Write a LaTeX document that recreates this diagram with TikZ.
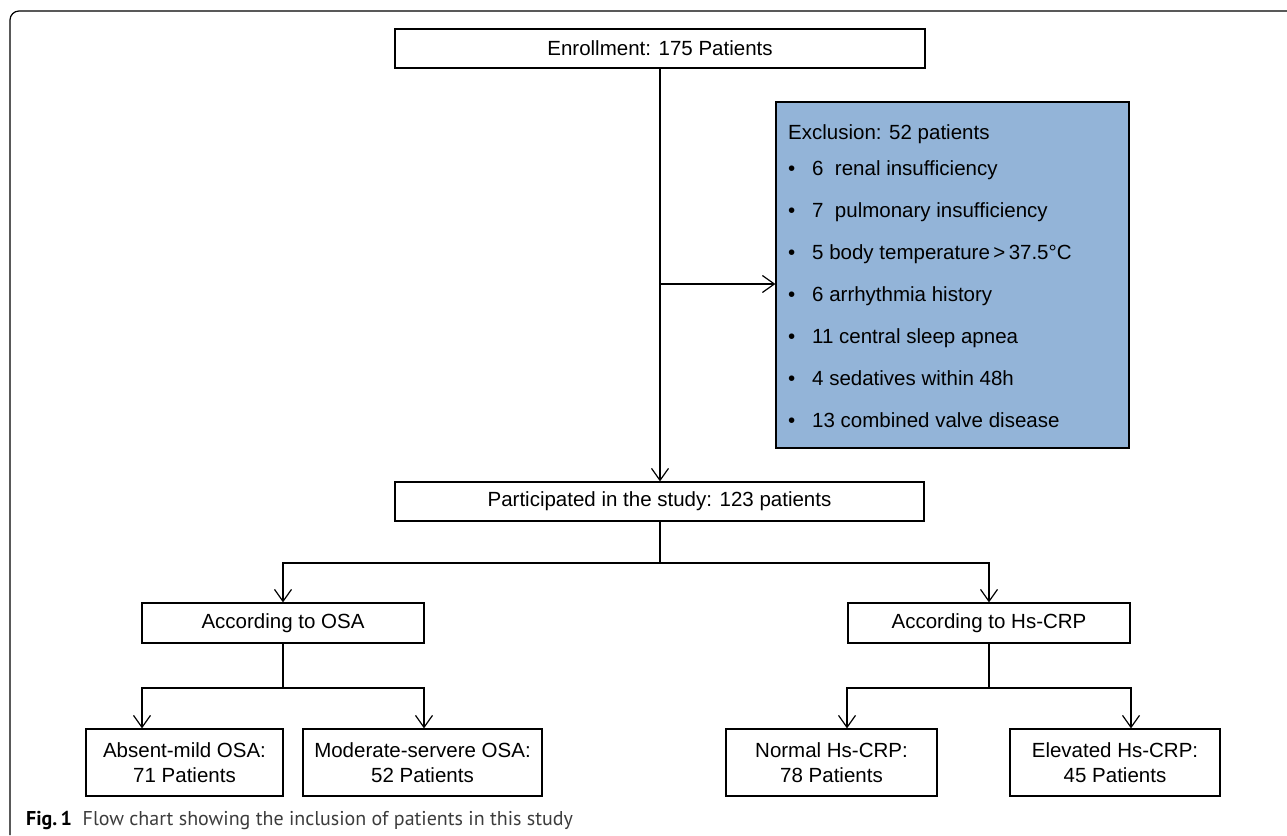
\documentclass[tikz,border=0pt]{standalone}
\usepackage{fontspec}
\setmainfont{Liberation Sans}
\newfontfamily\capfont{PT Sans}
\usetikzlibrary{arrows.meta}
\definecolor{exclblue}{RGB}{147,180,216}
\definecolor{capgray}{RGB}{60,60,60}
\begin{document}
\begin{tikzpicture}[x=1pt,y=-1pt,
  every node/.style={font=\fontsize{20.5}{25}\selectfont},
  boxnode/.style={draw=black, line width=1.2pt, inner sep=0pt, align=center},
  link/.style={line width=1.2pt, draw=black},
  arr/.style={link, -{Straight Barb[length=12pt,width=17pt,line width=1.2pt]}},
  txt/.style={anchor=base west, inner sep=0pt}
]
\useasboundingbox (0,0) rectangle (1287,835);
% outer frame
\draw[line width=1.2pt, rounded corners=9pt] (10,835) -- (10,11) -- (1287,11);

% boxes
\node[boxnode, minimum width=530pt, minimum height=39pt] (enroll) at (660,48.5) {Enrollment: 175 Patients};
\node[boxnode, minimum width=353pt, minimum height=346pt, fill=exclblue] (excl) at (952.5,275) {};
\node[boxnode, minimum width=529pt, minimum height=39pt] (part) at (659.5,501.5) {Participated in the study: 123 patients};
\node[boxnode, minimum width=282pt, minimum height=40pt] (osa) at (283,623) {According to OSA};
\node[boxnode, minimum width=282pt, minimum height=40pt] (crp) at (989,623) {According to Hs-CRP};
\node[boxnode, minimum width=197pt, minimum height=67pt] (absent) at (184.5,762.5) {Absent-mild OSA:\\71 Patients};
\node[boxnode, minimum width=239pt, minimum height=67pt] (moder) at (422.5,762.5) {Moderate-servere OSA:\\52 Patients};
\node[boxnode, minimum width=211pt, minimum height=67pt] (normal) at (831.5,762.5) {Normal Hs-CRP:\\78 Patients};
\node[boxnode, minimum width=210pt, minimum height=67pt] (elev) at (1115,762.5) {Elevated Hs-CRP:\\45 Patients};

% exclusion text
\node[txt] (ex0) at (788,139) {Exclusion: 52 patients};
\node[txt] (ex1) at (788,175) {\makebox[24pt][l]{\textbullet}6\ \ renal insufficiency};
\node[txt] (ex2) at (788,217) {\makebox[24pt][l]{\textbullet}7\ \ pulmonary insufficiency};
\node[txt] (ex3) at (788,259) {\makebox[24pt][l]{\textbullet}5 body temperature\,>\,37.5°C};
\node[txt] (ex4) at (788,301) {\makebox[24pt][l]{\textbullet}6 arrhythmia history};
\node[txt] (ex5) at (788,343) {\makebox[24pt][l]{\textbullet}11 central sleep apnea};
\node[txt] (ex6) at (788,385) {\makebox[24pt][l]{\textbullet}4 sedatives within 48h};
\node[txt] (ex7) at (788,427) {\makebox[24pt][l]{\textbullet}13 combined valve disease};

% connectors
\coordinate (j1) at (660,284);
\draw[arr] (enroll.south) -- (enroll.south |- part.north);
\draw[arr] (j1) -- (j1 -| excl.west);

\coordinate (h1) at (660,563);
\draw[link] (part.south -| h1) -- (h1);
\draw[arr] (h1) -| (osa.north);
\draw[arr] (h1) -| (crp.north);

\coordinate (h2) at (283,688);
\draw[link] (osa.south) -- (h2);
\draw[arr] (h2) -| ([xshift=-42.5pt]absent.north);
\draw[arr] (h2) -| ([xshift=1.5pt]moder.north);

\coordinate (h3) at (989,688);
\draw[link] (crp.south) -- (h3);
\draw[arr] (h3) -| ([xshift=15.5pt]normal.north);
\draw[arr] (h3) -| ([xshift=16pt]elev.north);

% caption
\node[txt, font=\capfont\fontsize{20}{24}\selectfont] (cap) at (26,825) {\textbf{Fig.\,1}\ \ \textcolor{capgray}{Flow chart showing the inclusion of patients in this study}};
\end{tikzpicture}
\end{document}
